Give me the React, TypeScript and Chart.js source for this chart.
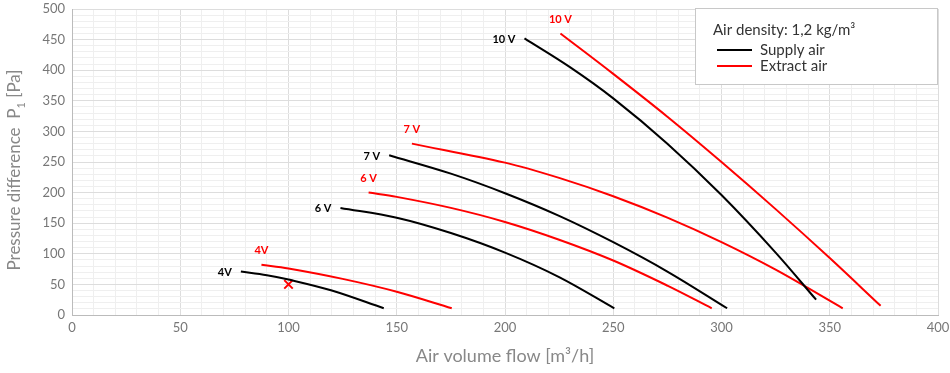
import { useEffect, useRef } from 'react';
import { Chart, registerables } from 'chart.js';

Chart.register(...registerables);

// ---- data (air volume flow m³/h, pressure difference Pa) ----
const supply4V = [[78, 71], [90, 65], [100, 58], [120, 40], [144, 11]];
const supply6V = [[124, 175], [150, 159], [175, 134], [200, 102], [225, 62], [250.5, 11]];
const supply7V = [[146.5, 261], [175, 231], [200, 199], [225, 162], [250, 119], [275, 71], [302.6, 11]];
const supply10V = [[209, 452], [230, 405], [250, 354], [275, 280], [300, 196], [325, 102], [343.7, 25]];

const extract4V = [[87.5, 82], [100, 76], [125, 59], [150, 38], [175.4, 11]];
const extract6V = [[137, 200], [150, 193], [175, 175], [200, 152], [225, 123], [250, 89], [275, 48], [295.5, 11]];
const extract7V = [[157, 280], [200, 249], [225, 224], [250, 194], [275, 159], [300, 119], [325, 74], [356, 11]];
const extract10V = [[225.6, 460], [250, 394], [275, 324], [300, 250], [325, 173], [350, 93], [373.5, 15]];

const supplyLabels = ['4V', '6 V', '7 V', '10 V'];
const extractLabels = ['4V', '6 V', '7 V', '10 V'];
const operatingPoint = [[100, 50]];

const xAxisTitle = 'Air volume flow [m³/h]';
const legendTitle = 'Air density: 1,2 kg/m³';
const legendItems = ['Supply air', 'Extract air'];

const BLACK = '#000000';
const RED = '#ff0000';
const FONT = 'Lato, "DejaVu Sans", sans-serif';

const toPts = (arr: number[][]) => arr.map(([x, y]) => ({ x, y }));

const curveLabelsPlugin = {
  id: 'curveLabels',
  afterDatasetsDraw(chart: any) {
    const ctx = chart.ctx;
    ctx.save();
    ctx.font = `bold 11px ${FONT}`;
    ctx.textBaseline = 'middle';
    chart.data.datasets.forEach((ds: any, i: number) => {
      if (!ds.curveLabel) return;
      const meta = chart.getDatasetMeta(i);
      const p = meta.data[0];
      if (!p) return;
      if (ds.kind === 'supply') {
        ctx.fillStyle = BLACK;
        ctx.textAlign = 'right';
        ctx.fillText(ds.curveLabel, p.x - 9, p.y + 1);
      } else {
        ctx.fillStyle = RED;
        ctx.textAlign = 'center';
        ctx.fillText(ds.curveLabel, p.x, p.y - 14);
      }
    });
    ctx.restore();
  },
};

const decorPlugin = {
  id: 'decor',
  afterDraw(chart: any) {
    const ctx = chart.ctx;
    const a = chart.chartArea;
    ctx.save();
    // legend box
    const bx = a.right - 243;
    const by = a.top - 1;
    ctx.fillStyle = '#ffffff';
    ctx.fillRect(bx, by, 243, 77);
    ctx.strokeStyle = '#c8c8c8';
    ctx.lineWidth = 1;
    ctx.strokeRect(bx + 0.5, by + 0.5, 242, 76);
    ctx.fillStyle = '#333333';
    ctx.font = `15px ${FONT}`;
    ctx.textAlign = 'left';
    ctx.textBaseline = 'middle';
    ctx.fillText(legendTitle, bx + 18, by + 22);
    const cols = [BLACK, RED];
    legendItems.forEach((t, i) => {
      const y = by + 42 + i * 16;
      ctx.strokeStyle = cols[i];
      ctx.lineWidth = 2;
      ctx.beginPath();
      ctx.moveTo(bx + 22, y);
      ctx.lineTo(bx + 57, y);
      ctx.stroke();
      ctx.fillStyle = '#333333';
      ctx.fillText(t, bx + 65, y);
    });

    // x axis title
    ctx.fillStyle = '#888888';
    ctx.font = `18px ${FONT}`;
    ctx.textAlign = 'center';
    ctx.textBaseline = 'middle';
    ctx.fillText(xAxisTitle, (a.left + a.right) / 2, 356);

    // y axis title with subscript
    ctx.translate(15, 170);
    ctx.rotate(-Math.PI / 2);
    const part1 = 'Pressure difference  P';
    const part2 = '1';
    const part3 = ' [Pa]';
    ctx.font = `17px ${FONT}`;
    const w1 = ctx.measureText(part1).width;
    const w3 = ctx.measureText(part3).width;
    ctx.font = `11px ${FONT}`;
    const w2 = ctx.measureText(part2).width;
    const total = w1 + w2 + w3;
    let x = -total / 2;
    ctx.textAlign = 'left';
    ctx.font = `17px ${FONT}`;
    ctx.fillText(part1, x, 0);
    x += w1;
    ctx.font = `11px ${FONT}`;
    ctx.fillText(part2, x, 6);
    x += w2;
    ctx.font = `17px ${FONT}`;
    ctx.fillText(part3, x, 0);
    ctx.restore();
  },
};

export default function App() {
  const ref = useRef<HTMLCanvasElement | null>(null);

  useEffect(() => {
    if (!ref.current) return;
    const line = (data: number[][], color: string, kind: string, label: string) => ({
      data: toPts(data),
      borderColor: color,
      backgroundColor: color,
      borderWidth: 2,
      pointRadius: 0,
      showLine: true,
      tension: 0.35,
      kind,
      curveLabel: label,
    });
    const gridColor = (c: any) => (c.tick && c.tick.value % 50 === 0 ? '#dddddd' : '#efefef');
    const chart = new Chart(ref.current, {
      type: 'scatter',
      data: {
        datasets: [
          line(supply4V, BLACK, 'supply', supplyLabels[0]),
          line(supply6V, BLACK, 'supply', supplyLabels[1]),
          line(supply7V, BLACK, 'supply', supplyLabels[2]),
          line(supply10V, BLACK, 'supply', supplyLabels[3]),
          line(extract4V, RED, 'extract', extractLabels[0]),
          line(extract6V, RED, 'extract', extractLabels[1]),
          line(extract7V, RED, 'extract', extractLabels[2]),
          line(extract10V, RED, 'extract', extractLabels[3]),
          {
            data: toPts(operatingPoint),
            pointStyle: 'crossRot',
            pointRadius: 6,
            borderColor: RED,
            borderWidth: 2,
            showLine: false,
          } as any,
        ] as any,
      },
      options: {
        responsive: false,
        animation: false,
        layout: { padding: { top: 9, right: 12, left: 0, bottom: 0 } },
        plugins: {
          legend: { display: false },
          tooltip: { enabled: false },
        },
        scales: {
          x: {
            type: 'linear',
            min: 0,
            max: 400,
            afterFit: (s: any) => {
              s.height = 58;
              s.paddingLeft = 0;
              s.paddingRight = 0;
            },
            ticks: {
              stepSize: 10,
              autoSkip: false,
              maxRotation: 0,
              padding: 5,
              color: '#777777',
              font: { size: 13, family: FONT },
              callback: (v: any) => (Number(v) % 50 === 0 ? String(v) : ''),
            },
            grid: { color: gridColor, drawTicks: false },
            border: { color: '#bbbbbb' },
          },
          y: {
            type: 'linear',
            min: 0,
            max: 500,
            afterFit: (s: any) => {
              s.width = 72;
              s.paddingTop = 0;
              s.paddingBottom = 0;
            },
            ticks: {
              stepSize: 10,
              autoSkip: false,
              padding: 7,
              color: '#777777',
              font: { size: 13, family: FONT },
              callback: (v: any) => (Number(v) % 50 === 0 ? String(v) : ''),
            },
            grid: { color: gridColor, drawTicks: false },
            border: { color: '#bbbbbb' },
          },
        },
      } as any,
      plugins: [curveLabelsPlugin, decorPlugin],
    });
    return () => chart.destroy();
  }, []);

  return (
    <div style={{ position: 'absolute', left: 0, top: 0, width: 950, height: 373 }}>
      <canvas ref={ref} width={950} height={373} style={{ display: 'block' }} />
    </div>
  );
}
